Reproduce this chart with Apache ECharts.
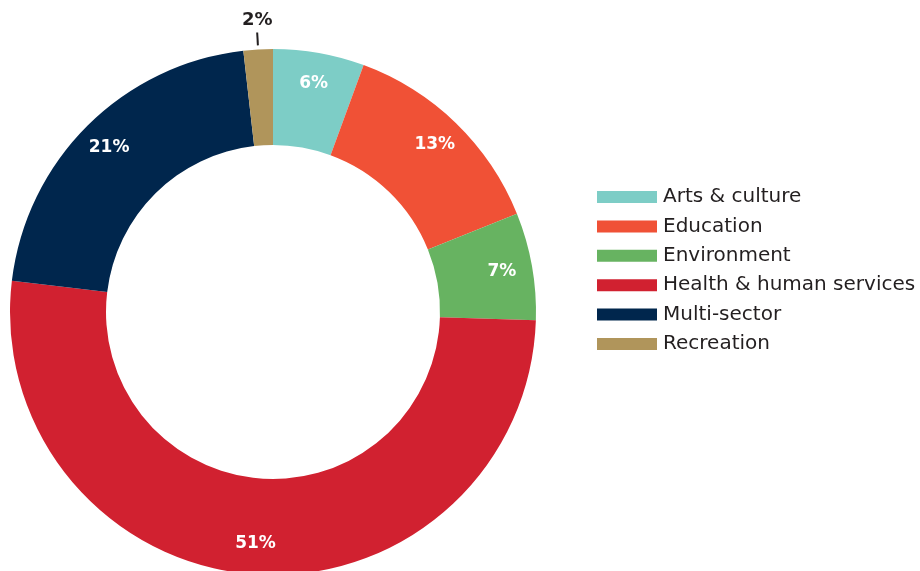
<!DOCTYPE html>
<html><head><meta charset="utf-8">
<script src="https://cdn.jsdelivr.net/npm/echarts@6/dist/echarts.min.js"></script>
<style>html,body{margin:0;padding:0;background:#fff}#c{width:920px;height:571px}</style>
</head><body><div id="c"></div>
<script>
const categories = ['Arts & culture','Education','Environment','Health & human services','Multi-sector','Recreation'];
const values = [5.6, 13.3, 6.6, 51.4, 21.3, 1.8];
const colors = ['#7dcdc6','#f05136','#67b361','#d12130','#00264d','#b0955b'];
const outsideLabel = [false,false,false,false,false,true];

const chart = echarts.init(document.getElementById('c'));
const font = '"DejaVu Sans", sans-serif';
const data = categories.map((n,i)=>({
  name:n, value:values[i], itemStyle:{color:colors[i]},
  label: outsideLabel[i] ? {show:true, position:'outside', color:'#231f20'} : {show:false},
  labelLine: outsideLabel[i] ? {show:true, length:17, length2:0, lineStyle:{color:'#231f20', width:2}} : {show:false}
}));
const labelData = categories.map((n,i)=>({
  name:n, value:values[i], itemStyle:{color:'rgba(0,0,0,0)'},
  label:{show:!outsideLabel[i]}
}));
chart.setOption({
  animation:false,
  legend:{
    orient:'vertical', left:597, top:187, padding:0,
    itemWidth:60, itemHeight:12, itemGap:9.4,
    icon:'rect',
    textStyle:{fontFamily:font, fontSize:20, color:'#231f20', lineHeight:20, padding:[0,0,0,1]},
    data:categories
  },
  series:[
    {
      type:'pie', center:[273,312], radius:[167,263], startAngle:90, clockwise:true,
      avoidLabelOverlap:false, silent:true,
      label:{fontFamily:font, fontSize:18, fontWeight:'bold', formatter:p=>Math.round(p.value)+'%'},
      labelLayout:function(p){
        if(!p.labelLinePoints) return {};
        const pts = p.labelLinePoints;
        const a = pts[0], b = pts[1];
        const dx=b[0]-a[0], dy=b[1]-a[1], len=Math.hypot(dx,dy)||1;
        const s=[a[0]+dx/len*4, a[1]+dy/len*4];
        return {x:b[0], y:b[1]-3, align:'center', verticalAlign:'bottom', labelLinePoints:[s,b,b]};
      },
      data:data
    },
    {
      type:'pie', center:[273,312], radius:[196,263], startAngle:90, clockwise:true,
      silent:true, avoidLabelOverlap:false, legendHoverLink:false,
      label:{position:'inside', color:'#ffffff', fontFamily:font, fontSize:17, fontWeight:'bold', formatter:p=>Math.round(p.value)+'%'},
      labelLine:{show:false},
      data:labelData
    }
  ]
});
</script></body></html>
